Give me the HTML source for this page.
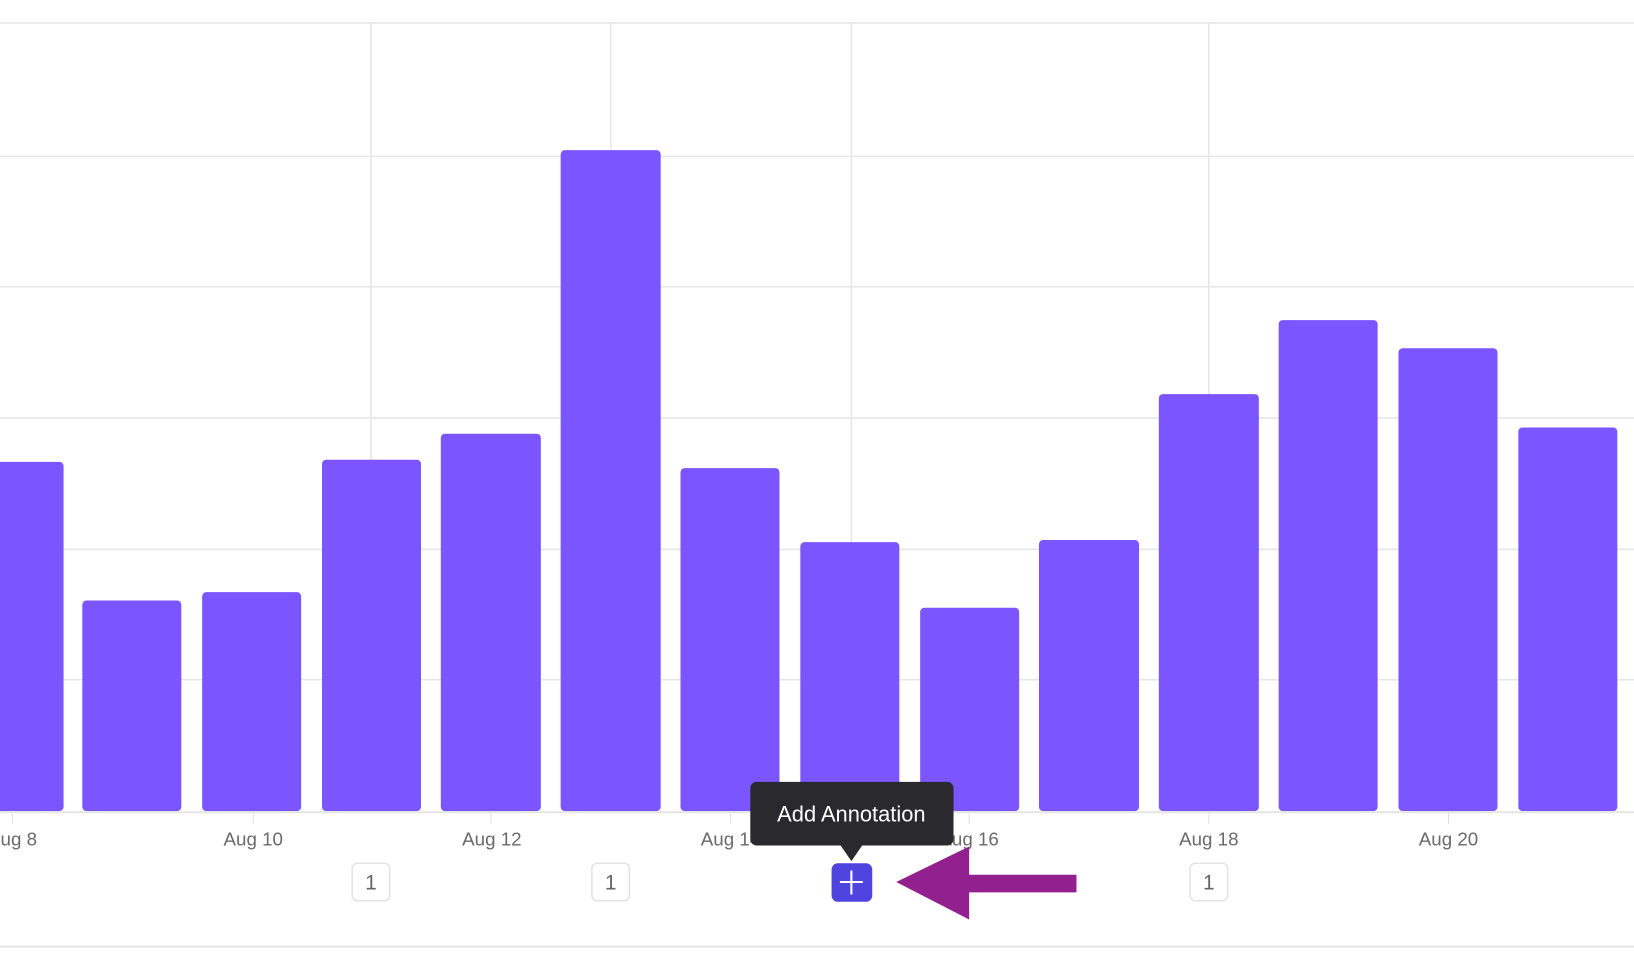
<!DOCTYPE html>
<html><head><style>html,body{margin:0;padding:0;background:#fff;overflow:hidden}svg{display:block}</style></head>
<body>
<svg width="1634" height="980" viewBox="0 0 1568 940" preserveAspectRatio="none" xmlns="http://www.w3.org/2000/svg" font-family="Liberation Sans, sans-serif">
<g stroke="#e6e6e6" stroke-width="1.5">
<line x1="0" y1="22" x2="1568" y2="22"/>
<line x1="0" y1="150" x2="1568" y2="150"/>
<line x1="0" y1="275" x2="1568" y2="275"/>
<line x1="0" y1="401" x2="1568" y2="401"/>
<line x1="0" y1="527" x2="1568" y2="527"/>
<line x1="0" y1="652" x2="1568" y2="652"/>
<line x1="356" y1="22" x2="356" y2="778"/>
<line x1="586" y1="22" x2="586" y2="778"/>
<line x1="817" y1="22" x2="817" y2="778"/>
<line x1="1160" y1="22" x2="1160" y2="778"/>
<line x1="0" y1="908" x2="1568" y2="908" stroke-width="2"/>
</g>
<g fill="#7b55ff">
<rect x="-40" y="443" width="101" height="335" rx="4"/>
<rect x="79" y="576" width="95" height="202" rx="4"/>
<rect x="194" y="568" width="95" height="210" rx="4"/>
<rect x="309" y="441" width="95" height="337" rx="4"/>
<rect x="423" y="416" width="96" height="362" rx="4"/>
<rect x="538" y="144" width="96" height="634" rx="4"/>
<rect x="653" y="449" width="95" height="329" rx="4"/>
<rect x="768" y="520" width="95" height="258" rx="4"/>
<rect x="883" y="583" width="95" height="195" rx="4"/>
<rect x="997" y="518" width="96" height="260" rx="4"/>
<rect x="1112" y="378" width="96" height="400" rx="4"/>
<rect x="1227" y="307" width="95" height="471" rx="4"/>
<rect x="1342" y="334" width="95" height="444" rx="4"/>
<rect x="1457" y="410" width="95" height="368" rx="4"/>
</g>
<line x1="0" y1="779" x2="1568" y2="779" stroke="#e6e6e6" stroke-width="2"/>
<g stroke="#e0e0e0" stroke-width="1">
<line x1="12" y1="780" x2="12" y2="790"/><line x1="243" y1="780" x2="243" y2="790"/><line x1="471" y1="780" x2="471" y2="790"/><line x1="701" y1="780" x2="701" y2="790"/><line x1="930" y1="780" x2="930" y2="790"/><line x1="1160" y1="780" x2="1160" y2="790"/><line x1="1390" y1="780" x2="1390" y2="790"/>
</g>
<g fill="#6a6a6a" font-size="18" text-anchor="middle">
<text x="12" y="811">Aug 8</text><text x="243" y="811">Aug 10</text><text x="472" y="811">Aug 12</text><text x="701" y="811">Aug 14</text><text x="930" y="811">Aug 16</text><text x="1160" y="811">Aug 18</text><text x="1390" y="811">Aug 20</text>
</g>
<g fill="#fff" stroke="#e3e3e3" stroke-width="1.5">
<rect x="338" y="828" width="36" height="36" rx="5"/><rect x="568" y="828" width="36" height="36" rx="5"/><rect x="1142" y="828" width="36" height="36" rx="5"/>
</g>
<g fill="#666" font-size="20" text-anchor="middle">
<text x="356" y="853">1</text><text x="586" y="853">1</text><text x="1160" y="853">1</text>
</g>
<rect x="798" y="828" width="39" height="37" rx="6" fill="#4f44e0"/>
<g stroke="#fff" stroke-width="2"><line x1="817" y1="835" x2="817" y2="858"/><line x1="806" y1="846" x2="828" y2="846"/></g>
<rect x="720" y="750" width="195" height="61" rx="6" fill="#2a2a2e"/>
<polygon points="806,810 828,810 817,826" fill="#2a2a2e"/>
<text x="817" y="788" fill="#fff" font-size="21" text-anchor="middle">Add Annotation</text>
<polygon points="860,846 930,812 930,839 1033,839 1033,856 930,856 930,882" fill="#93208f"/>
</svg>
</body></html>
